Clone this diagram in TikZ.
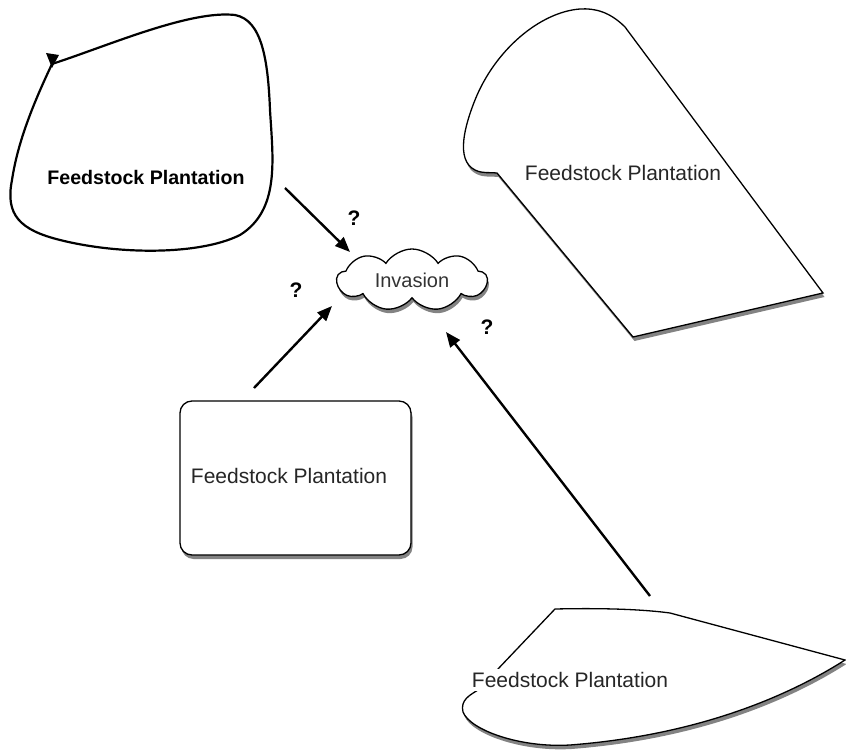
\documentclass[tikz,border=0pt]{standalone}
\usepackage{fontspec}
\setmainfont{Liberation Sans}
\usetikzlibrary{shapes.symbols,shadows,arrows.meta}

\tikzset{
  outline/.style={draw=black, line width=1.3pt, fill=white},
  shade/.style={drop shadow={shadow xshift=1.5pt, shadow yshift=-4pt, opacity=0.75, fill=black!65}},
  label/.style={font=\fontsize{21}{24}\selectfont, text=black!85, fill=white, inner sep=3pt},
  flow/.style={line width=2.4pt, -{Triangle[length=15pt,width=12pt]}},
  query/.style={font=\bfseries\fontsize{21}{24}\selectfont}
}

\begin{document}
\begin{tikzpicture}[x=1pt, y=-1pt]
\useasboundingbox (0,0) rectangle (846,751);

% free-form plantation, top left
\draw[line width=2.2pt] (52,64) .. controls (110,45) and (190,10) .. (235,15)
  .. controls (262,20) and (268,60) .. (270,110)
  .. controls (273,160) and (280,210) .. (240,235)
  .. controls (200,255) and (120,255) .. (60,240)
  .. controls (20,230) and (5,215) .. (12,180)
  .. controls (18,140) and (35,100) .. (52,64) -- cycle;
\fill (46,53) -- (59,55) -- (52,68) -- cycle;
\node[font=\bfseries\fontsize{19.6}{23}\selectfont] (p1) at (146,177) {Feedstock Plantation};

% slanted plantation, top right
\draw[outline, shade] (497,173) -- (633,337) -- (823,293) -- (625,27)
  .. controls (610,12) and (595,8) .. (580,9)
  .. controls (540,12) and (495,50) .. (475,100)
  .. controls (465,125) and (455,160) .. (475,170)
  .. controls (483,174) and (490,172) .. (497,173) -- cycle;
\node[label] (p2) at (623,173) {Feedstock Plantation};

% central cloud
\node[cloud, cloud puffs=9, cloud puff arc=115, aspect=2.5, outline, shade,
      minimum width=150pt, minimum height=62pt, inner sep=0pt,
      font=\fontsize{20}{24}\selectfont, text=black!80] (inv) at (412,280) {Invasion};

% rounded box plantation
\draw[outline, shade, rounded corners=12pt] (180,401) rectangle (411,555);
\node[font=\fontsize{21}{24}\selectfont, text=black!85] (p3) at (289,476) {Feedstock Plantation};

% wedge plantation, bottom right
\draw[outline, shade] (555,609) .. controls (600,608) and (640,609) .. (670,613)
  -- (845,660) .. controls (790,695) and (700,735) .. (570,745)
  .. controls (520,748) and (470,730) .. (463,712)
  .. controls (460,700) and (470,695) .. (478,690) -- cycle;
\node[label] (p4) at (570,680) {Feedstock Plantation};

% arrow end points
\coordinate (a1s) at (285,188);
\coordinate (a1e) at (350,252);
\coordinate (a2s) at (254,388);
\coordinate (a2e) at (332,306);
\coordinate (a3s) at (650,596);
\coordinate (a3e) at (446,332);

\draw[flow] (a1s) -- (a1e);
\draw[flow] (a2s) -- (a2e);
\draw[flow] (a3s) -- (a3e);

\node[query] (q1) at (354,218) {?};
\node[query] (q2) at (296,290) {?};
\node[query] (q3) at (487,327) {?};
\end{tikzpicture}
\end{document}
